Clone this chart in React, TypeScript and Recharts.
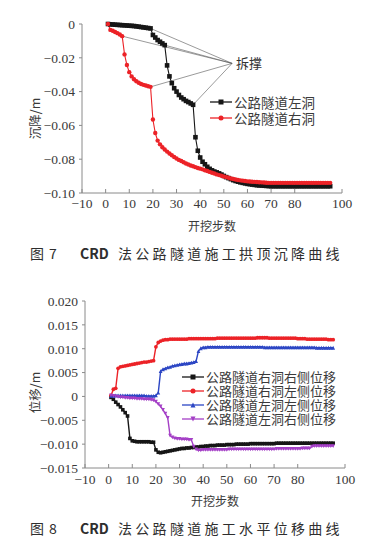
import { LineChart, Line, XAxis, YAxis, Legend, ReferenceLine, ReferenceDot } from 'recharts';

// excavation steps (x axis)
const steps = [
  1, 2, 3, 4, 5, 6, 7, 8, 9, 10,
  11, 12, 13, 14, 15, 16, 17, 18, 19, 20,
  21, 22, 23, 24, 25, 26, 27, 28, 29, 30,
  31, 32, 33, 34, 35, 36, 37, 38, 39, 40,
  41, 42, 43, 44, 45, 46, 47, 48, 49, 50,
  51, 52, 53, 54, 55, 56, 57, 58, 59, 60,
  61, 62, 63, 64, 65, 66, 67, 68, 69, 70,
  71, 72, 73, 74, 75, 76, 77, 78, 79, 80,
  81, 82, 83, 84, 85, 86, 87, 88, 89, 90,
  91, 92, 93, 94, 95,
];

// Fig 7: crown settlement (m)
const leftHoleSettle = [
  0, -0.0002, -0.0003, -0.0004, -0.0005, -0.0006, -0.0007, -0.0008, -0.0009, -0.001,
  -0.0011, -0.0012, -0.0014, -0.0016, -0.0018, -0.002, -0.0022, -0.0024, -0.0026, -0.0065,
  -0.008, -0.0095, -0.0105, -0.0115, -0.0125, -0.0245, -0.031, -0.035, -0.038, -0.04,
  -0.042, -0.0435, -0.0445, -0.0455, -0.0462, -0.047, -0.0478, -0.067, -0.075, -0.079,
  -0.0815, -0.083, -0.0845, -0.0857, -0.0866, -0.0873, -0.0878, -0.0884, -0.0891, -0.0899,
  -0.0906, -0.0912, -0.0918, -0.0924, -0.0929, -0.0933, -0.0937, -0.094, -0.0943, -0.0946,
  -0.0948, -0.095, -0.0952, -0.0954, -0.0955, -0.0956, -0.0957, -0.0958, -0.0959, -0.096,
  -0.096, -0.096, -0.096, -0.096, -0.096, -0.096, -0.096, -0.096, -0.096, -0.096,
  -0.096, -0.096, -0.096, -0.096, -0.096, -0.096, -0.096, -0.096, -0.096, -0.096,
  -0.096, -0.096, -0.096, -0.096, -0.096,
];
const rightHoleSettle = [
  0, -0.0035, -0.004, -0.0047, -0.0054, -0.0062, -0.0072, -0.018, -0.0243, -0.0285,
  -0.031, -0.0327, -0.0339, -0.0348, -0.0355, -0.036, -0.0364, -0.0368, -0.0372, -0.0565,
  -0.0645, -0.069, -0.0712, -0.0729, -0.0743, -0.0755, -0.0766, -0.0777, -0.0787, -0.0796,
  -0.0804, -0.0811, -0.0818, -0.0825, -0.0831, -0.0837, -0.0842, -0.0847, -0.0852, -0.0856,
  -0.086, -0.0865, -0.087, -0.0875, -0.088, -0.0885, -0.089, -0.0894, -0.0898, -0.0902,
  -0.0906, -0.091, -0.0914, -0.0917, -0.092, -0.0923, -0.0925, -0.0927, -0.0929, -0.0931,
  -0.0932, -0.0933, -0.0934, -0.0935, -0.0936, -0.0937, -0.0938, -0.0939, -0.094, -0.094,
  -0.094, -0.094, -0.094, -0.094, -0.094, -0.094, -0.094, -0.094, -0.094, -0.094,
  -0.094, -0.094, -0.094, -0.094, -0.094, -0.094, -0.094, -0.094, -0.094, -0.094,
  -0.094, -0.094, -0.094, -0.094, -0.094,
];

// Fig 8: horizontal displacement (m)
const rightHoleRightSide = [
  -0.0002, -0.0006, -0.0012, -0.0017, -0.0022, -0.0028, -0.0034, -0.0041, -0.0088, -0.0093,
  -0.0094, -0.0095, -0.0095, -0.0095, -0.0095, -0.0095, -0.0095, -0.0096, -0.0096, -0.0112,
  -0.0117, -0.0118, -0.0117, -0.0116, -0.0115, -0.0114, -0.0113, -0.0112, -0.0111, -0.011,
  -0.0109, -0.0109, -0.0108, -0.0108, -0.0107, -0.0107, -0.0106, -0.0106, -0.0105, -0.0105,
  -0.0104, -0.0104, -0.0103, -0.0103, -0.0103, -0.0102, -0.0102, -0.0102, -0.0102, -0.0101,
  -0.0101, -0.0101, -0.0101, -0.01, -0.01, -0.01, -0.01, -0.01, -0.01, -0.0099,
  -0.0099, -0.0099, -0.0099, -0.0099, -0.0099, -0.0099, -0.0099, -0.0099, -0.0099, -0.0099,
  -0.0098, -0.0098, -0.0098, -0.0098, -0.0098, -0.0098, -0.0098, -0.0098, -0.0098, -0.0098,
  -0.0098, -0.0098, -0.0098, -0.0098, -0.0098, -0.0098, -0.0098, -0.0098, -0.0098, -0.0098,
  -0.0098, -0.0098, -0.0098, -0.0098, -0.0098,
];
const rightHoleLeftSide = [
  0.0002, 0.0015, 0.0017, 0.0059, 0.0062, 0.0063, 0.0064, 0.0065, 0.0066, 0.0067,
  0.0068, 0.0069, 0.007, 0.0071, 0.0072, 0.0072, 0.0073, 0.0074, 0.0075, 0.0104,
  0.0113, 0.0116, 0.0118, 0.0119, 0.0119, 0.012, 0.012, 0.012, 0.012, 0.012,
  0.012, 0.012, 0.012, 0.0121, 0.0121, 0.0121, 0.0121, 0.0121, 0.0121, 0.0121,
  0.0121, 0.0121, 0.0121, 0.0121, 0.0121, 0.0122, 0.0122, 0.0122, 0.0122, 0.0122,
  0.0122, 0.0122, 0.0122, 0.0122, 0.0122, 0.0122, 0.0122, 0.0122, 0.0122, 0.0122,
  0.0122, 0.0122, 0.0123, 0.0123, 0.0123, 0.0123, 0.0123, 0.0122, 0.0122, 0.0122,
  0.0122, 0.0122, 0.0122, 0.0122, 0.0122, 0.0122, 0.0122, 0.0122, 0.0122, 0.0121,
  0.0121, 0.0121, 0.0121, 0.012, 0.012, 0.012, 0.012, 0.012, 0.012, 0.012,
  0.012, 0.012, 0.0119, 0.0119, 0.0119,
];
const leftHoleLeftSide = [
  0.0001, 0.0001, 0.0002, 0.0002, 0.0002, 0.0002, 0.0002, 0.0002, 0.0002, 0.0002,
  0.0002, 0.0002, 0.0002, 0.0002, 0.0002, 0.0001, 0.0001, 0.0001, 0.0001, 0.0002,
  0.0008, 0.0053, 0.0057, 0.0059, 0.0061, 0.0062, 0.0064, 0.0065, 0.0066, 0.0067,
  0.0068, 0.0069, 0.0069, 0.007, 0.0071, 0.0072, 0.0074, 0.0095, 0.0101, 0.0103,
  0.0103, 0.0104, 0.0104, 0.0104, 0.0104, 0.0104, 0.0104, 0.0104, 0.0104, 0.0104,
  0.0104, 0.0104, 0.0104, 0.0104, 0.0104, 0.0104, 0.0104, 0.0104, 0.0104, 0.0104,
  0.0104, 0.0104, 0.0104, 0.0104, 0.0104, 0.0103, 0.0103, 0.0103, 0.0103, 0.0103,
  0.0103, 0.0103, 0.0103, 0.0103, 0.0103, 0.0103, 0.0103, 0.0103, 0.0103, 0.0103,
  0.0103, 0.0103, 0.0103, 0.0103, 0.0103, 0.0103, 0.0103, 0.0102, 0.0102, 0.0102,
  0.0102, 0.0102, 0.0102, 0.0102, 0.0102,
];
const leftHoleRightSide = [
  0.0002, 0.0001, 0, -0.0001, -0.0002, -0.0002, -0.0003, -0.0003, -0.0004, -0.0004,
  -0.0004, -0.0005, -0.0005, -0.0005, -0.0006, -0.0006, -0.0006, -0.0007, -0.0008, -0.0011,
  -0.0016, -0.0021, -0.0028, -0.0036, -0.0045, -0.0082, -0.0086, -0.0088, -0.0089, -0.0089,
  -0.009, -0.009, -0.009, -0.0091, -0.0091, -0.0105, -0.0111, -0.0113, -0.0113, -0.0112,
  -0.0112, -0.0112, -0.0112, -0.0112, -0.0112, -0.0112, -0.0112, -0.0112, -0.0112, -0.0112,
  -0.0111, -0.0111, -0.0111, -0.0111, -0.0111, -0.0111, -0.0111, -0.0111, -0.0111, -0.0111,
  -0.0111, -0.0111, -0.0111, -0.0111, -0.0111, -0.0111, -0.0111, -0.0111, -0.0111, -0.0111,
  -0.011, -0.011, -0.011, -0.011, -0.011, -0.011, -0.011, -0.011, -0.011, -0.011,
  -0.011, -0.0109, -0.0109, -0.0109, -0.0109, -0.0105, -0.0104, -0.0104, -0.0104, -0.0104,
  -0.0104, -0.0104, -0.0104, -0.0104, -0.0104,
];

const xTicks = [-10, 0, 10, 20, 30, 40, 50, 60, 70, 80, 90, 100];
const settleTicks = [-0.1, -0.08, -0.06, -0.04, -0.02, 0];
const dispTicks = [-0.015, -0.01, -0.005, 0, 0.005, 0.01, 0.015, 0.02];

// "拆撑" (support removal) call-out: label anchor + the points it points at
const braceAnchor = { step: 53.5, value: -0.0233 };
const braceTargets = [
  { hole: 'left', step: 19 },
  { hole: 'right', step: 7 },
  { hole: 'left', step: 25 },
  { hole: 'right', step: 19 },
  { hole: 'left', step: 37 },
];

const settleData = steps.map((s, i) => ({ step: s, left: leftHoleSettle[i], right: rightHoleSettle[i] }));
const dispData = steps.map((s, i) => ({
  step: s,
  rr: rightHoleRightSide[i],
  rl: rightHoleLeftSide[i],
  ll: leftHoleLeftSide[i],
  lr: leftHoleRightSide[i],
}));

const BLACK = '#161616';
const RED = '#ec2227';
const BLUE = '#2c46c4';
const PURPLE = '#a43fc6';

const serif = 'Liberation Serif, DejaVu Serif, serif';
const cjk = '"Noto Sans CJK SC", sans-serif';
const textColor = '#3a3a3a';
const axisStroke = '#8a8a8a';

const minus = (s: string) => s.replace('-', '\u2212');
const fmtX = (v: number) => minus(String(v));
const fmtSettle = (v: number) => (v === 0 ? '0' : minus(v.toFixed(2)));
const fmtDisp = (v: number) => (Math.abs(v) < 1e-9 ? '0' : minus(v.toFixed(3)));

// serif tick text, rendered directly so the font sticks
const serifTick = (fmt: (v: number) => string, side: 'bottom' | 'left') => (p: any) => (
  <text
    x={p.x}
    y={p.y}
    textAnchor={p.textAnchor}
    dy={side === 'bottom' ? '0.71em' : '0.355em'}
    fill={textColor}
    fontFamily={serif}
    fontSize={13.5}
  >
    {fmt(p.payload.value)}
  </text>
);

// rotated y-axis title, placed at a fixed distance from the left edge
const yTitle = (title: string, dyShift: number) => (p: any) => {
  const vb = p.viewBox;
  const cx = vb.x + 34;
  const cy = vb.y + vb.height / 2 + dyShift;
  return (
    <text
      x={cx}
      y={cy}
      transform={`rotate(-90, ${cx}, ${cy})`}
      textAnchor="middle"
      dominantBaseline="central"
      fill={textColor}
      style={{ fontFamily: cjk, fontSize: 12.5 }}
    >
      {title}
    </text>
  );
};

function marker(shape: string, color: string, s: number, cx: number, cy: number, key?: any) {
  if (shape === 'square') return <rect key={key} x={cx - s / 2} y={cy - s / 2} width={s} height={s} fill={color} />;
  if (shape === 'circle') return <circle key={key} cx={cx} cy={cy} r={s / 2} fill={color} />;
  if (shape === 'up')
    return <path key={key} d={`M${cx},${cy - s / 2}L${cx + s / 2},${cy + s / 2}L${cx - s / 2},${cy + s / 2}Z`} fill={color} />;
  return <path key={key} d={`M${cx},${cy + s / 2}L${cx + s / 2},${cy - s / 2}L${cx - s / 2},${cy - s / 2}Z`} fill={color} />;
}

const dotOf = (shape: string, color: string, s: number) => (p: any) =>
  marker(shape, color, s, p.cx, p.cy, `${shape}-${p.index}`);

function LegendBox({ items, rowH, fontSize }: any) {
  return (
    <div>
      {items.map((it: any) => (
        <div key={it.name} style={{ display: 'flex', alignItems: 'center', height: rowH }}>
          <svg width={24} height={rowH} style={{ flex: 'none' }}>
            <line x1={1} x2={23} y1={rowH / 2} y2={rowH / 2} stroke={it.color} strokeWidth={1.3} />
            {marker(it.shape, it.color, 5, 12, rowH / 2)}
          </svg>
          <span style={{ fontSize, fontFamily: cjk, color: textColor, whiteSpace: 'nowrap', lineHeight: `${rowH}px`, marginLeft: 1 }}>
            {it.name}
          </span>
        </div>
      ))}
    </div>
  );
}

const settleSeries = [
  { key: 'left', name: '公路隧道左洞', color: BLACK, shape: 'square', size: 4.6 },
  { key: 'right', name: '公路隧道右洞', color: RED, shape: 'circle', size: 4.4 },
];
const dispSeries = [
  { key: 'rr', name: '公路隧道右洞右侧位移', color: BLACK, shape: 'square', size: 3.6 },
  { key: 'rl', name: '公路隧道右洞左侧位移', color: RED, shape: 'circle', size: 3.8 },
  { key: 'll', name: '公路隧道左洞左侧位移', color: BLUE, shape: 'up', size: 3.8 },
  { key: 'lr', name: '公路隧道左洞右侧位移', color: PURPLE, shape: 'down', size: 3.8 },
];

const pointOf = (hole: string, step: number) => {
  const i = steps.indexOf(step);
  return { x: step, y: hole === 'left' ? leftHoleSettle[i] : rightHoleSettle[i] };
};

function Caption({ top, num, text }: { top: number; num: string; text: string }) {
  const base: any = { position: 'absolute', top: 0, whiteSpace: 'pre', lineHeight: '20px', fontSize: 14, color: '#2e2e2e' };
  return (
    <div style={{ position: 'absolute', left: 0, top, width: 374, height: 20 }}>
      <span style={{ ...base, left: 30, fontFamily: cjk }}>图</span>
      <span style={{ ...base, left: 49, fontFamily: cjk }}>{num}</span>
      <span style={{ ...base, left: 80, fontFamily: cjk, fontWeight: 600 }}>CRD</span>
      <span style={{ ...base, left: 118, fontFamily: cjk, letterSpacing: 3.3 }}>{text}</span>
    </div>
  );
}

export default function App() {
  return (
    <div style={{ position: 'absolute', left: 0, top: 0, width: 374, height: 542, background: '#fff', overflow: 'hidden' }}>
      <div style={{ position: 'absolute', left: 0, top: 0 }}>
        <LineChart width={374} height={240} data={settleData} margin={{ top: 24, right: 32, bottom: 7, left: 0 }}>
          <XAxis
            dataKey="step"
            type="number"
            domain={[-10, 100]}
            ticks={xTicks}
            height={40}
            stroke={axisStroke}
            tick={serifTick(fmtX, 'bottom')}
            tickSize={-4}
            tickMargin={9}
            label={{ value: '开挖步数', position: 'insideBottom', offset: 2, style: { fontSize: 12, fontFamily: cjk, fill: textColor } }}
          />
          <YAxis
            type="number"
            domain={[-0.1, 0]}
            ticks={settleTicks}
            width={82}
            stroke={axisStroke}
            tick={serifTick(fmtSettle, 'left')}
            tickSize={3}
            tickMargin={4}
            label={{ value: '沉降/m', content: yTitle('沉降/m', 10) }}
          />
          {braceTargets.map((t, i) => (
            <ReferenceLine
              key={i}
              segment={[pointOf(t.hole, t.step), { x: braceAnchor.step, y: braceAnchor.value }]}
              stroke="#555"
              strokeWidth={0.6}
            />
          ))}
          <ReferenceDot
            x={braceAnchor.step}
            y={braceAnchor.value}
            r={0}
            stroke="none"
            label={{ value: '拆撑', position: 'right', offset: 4, style: { fontSize: 13, fontFamily: cjk, fill: '#333' } }}
          />
          {settleSeries.map((s) => (
            <Line
              key={s.key}
              dataKey={s.key}
              name={s.name}
              type="linear"
              stroke={s.color}
              strokeWidth={1.1}
              dot={dotOf(s.shape, s.color, s.size)}
              isAnimationActive={false}
            />
          ))}
          <Legend
            layout="vertical"
            align="center"
            verticalAlign="middle"
            wrapperStyle={{ left: 209, top: 94, width: 140 }}
            content={() => <LegendBox items={settleSeries} rowH={16} fontSize={13.5} />}
          />
        </LineChart>
      </div>
      <Caption top={243} num="7" text="法公路隧道施工拱顶沉降曲线" />

      <div style={{ position: 'absolute', left: 0, top: 280 }}>
        <LineChart width={374} height={240} data={dispData} margin={{ top: 21, right: 29, bottom: 12, left: 0 }}>
          <XAxis
            dataKey="step"
            type="number"
            domain={[-10, 100]}
            ticks={xTicks}
            height={40}
            stroke={axisStroke}
            tick={serifTick(fmtX, 'bottom')}
            tickSize={-4}
            tickMargin={10}
            label={{ value: '开挖步数', position: 'insideBottom', offset: 2, style: { fontSize: 12, fontFamily: cjk, fill: textColor } }}
          />
          <YAxis
            type="number"
            domain={[-0.015, 0.02]}
            ticks={dispTicks}
            width={85}
            stroke={axisStroke}
            tick={serifTick(fmtDisp, 'left')}
            tickSize={3}
            tickMargin={4}
            label={{ value: '位移/m', content: yTitle('位移/m', 8) }}
          />
          {dispSeries.map((s) => (
            <Line
              key={s.key}
              dataKey={s.key}
              name={s.name}
              type="linear"
              stroke={s.color}
              strokeWidth={1.4}
              dot={dotOf(s.shape, s.color, s.size)}
              isAnimationActive={false}
            />
          ))}
          <Legend
            layout="vertical"
            align="center"
            verticalAlign="middle"
            wrapperStyle={{ left: 181, top: 90, width: 175 }}
            content={() => <LegendBox items={dispSeries} rowH={14} fontSize={13} />}
          />
        </LineChart>
      </div>
      <Caption top={518} num="8" text="法公路隧道施工水平位移曲线" />
    </div>
  );
}
